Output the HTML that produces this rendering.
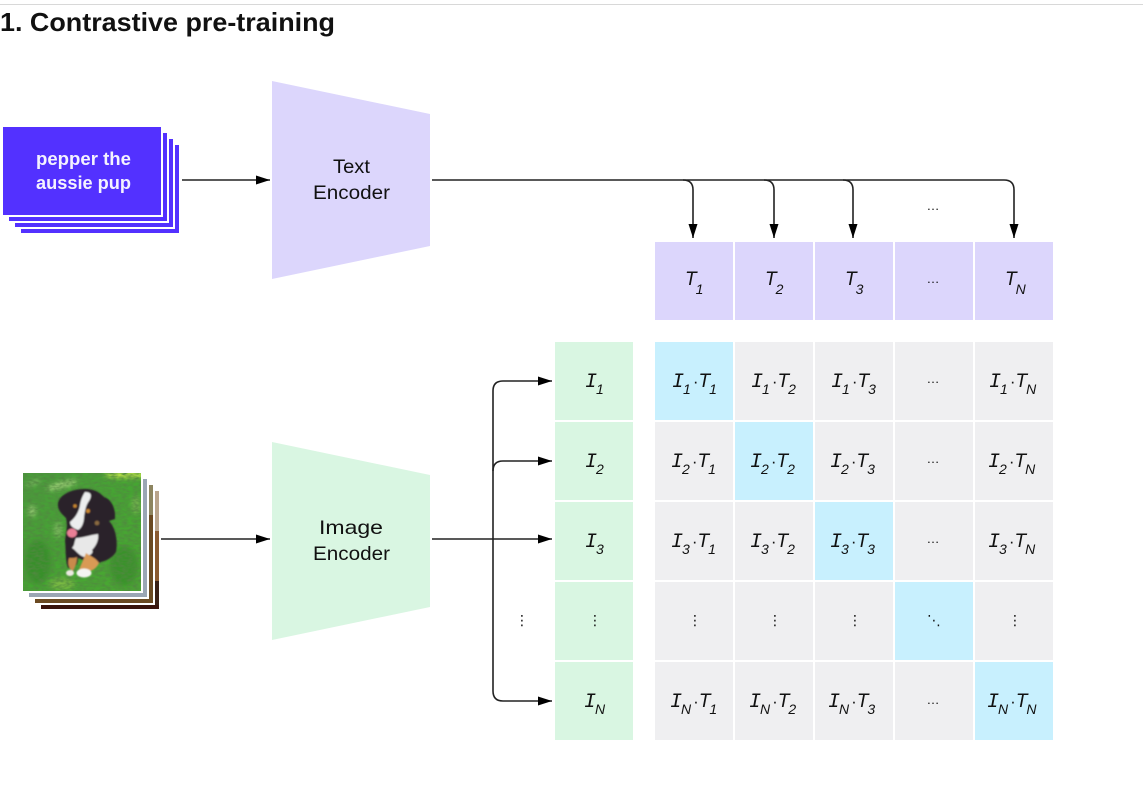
<!DOCTYPE html>
<html><head><meta charset="utf-8"><style>
html,body{margin:0;padding:0;background:#fff}
svg{display:block}
text{font-family:"Liberation Sans",sans-serif;fill:#111}
.m{font-family:"Liberation Mono",monospace;font-style:italic;font-size:20px}
.t{font-style:italic;font-size:19px}
.s{font-style:italic;font-size:14px}
.d{font-size:17px}
.h{font-size:13px;text-anchor:middle}
.v{font-family:"DejaVu Sans",sans-serif;font-size:14px;text-anchor:middle}
.l{fill:none;stroke:#222;stroke-width:1.6}
.e{font-size:19.5px}
</style></head><body>
<svg width="1143" height="806" viewBox="0 0 1143 806" xmlns="http://www.w3.org/2000/svg">
<defs>
<filter id="b1" x="-20%" y="-20%" width="140%" height="140%"><feGaussianBlur stdDeviation="0.9"/></filter>
<filter id="b3" x="-50%" y="-50%" width="200%" height="200%"><feGaussianBlur stdDeviation="2.500"/></filter>
<filter id="n" x="0" y="0" width="100%" height="100%"><feTurbulence type="fractalNoise" baseFrequency=".18 .4" numOctaves="2" seed="4"/><feColorMatrix values="0 0 0 0 .08  0 0 0 0 .25  0 0 0 0 .05  1.800 0 0 0 -.55"/></filter>
<linearGradient id="g" x1="0" y1="0" x2="1" y2="1"><stop offset="0" stop-color="#4a9a3c"/><stop offset=".5" stop-color="#45a532"/><stop offset="1" stop-color="#4aa832"/></linearGradient>
<marker id="a" viewBox="0 0 14 9" refX="14" refY="4.500" markerWidth="14" markerHeight="9" markerUnits="userSpaceOnUse" orient="auto"><path d="M0 0L14 4.500L0 9z" fill="#000"/></marker>
<clipPath id="c"><rect x="23" y="473" width="118" height="118"/></clipPath>
</defs>
<rect x="0" y="4" width="1143" height="1" fill="#d8d8d8"/>
<text x="0" y="31" font-size="26" font-weight="700" textLength="335" lengthAdjust="spacingAndGlyphs" fill="#0b0b0b">1. Contrastive pre-training</text>

<!-- text stack -->
<rect x="21" y="145" width="158" height="88" fill="#5331ff"/>
<rect x="13" y="137" width="162" height="92" fill="#fff"/>
<rect x="15" y="139" width="158" height="88" fill="#5331ff"/>
<rect x="7" y="131" width="162" height="92" fill="#fff"/>
<rect x="9" y="133" width="158" height="88" fill="#5331ff"/>
<rect x="1" y="125" width="162" height="92" fill="#fff"/>
<rect x="3" y="127" width="158" height="88" fill="#5331ff"/>
<text x="36" y="165" font-size="18" font-weight="700" style="fill:#f4f2ff" textLength="95" lengthAdjust="spacingAndGlyphs">pepper the</text>
<text x="36" y="189" font-size="18" font-weight="700" style="fill:#f4f2ff" textLength="95" lengthAdjust="spacingAndGlyphs">aussie pup</text>

<!-- encoders -->
<polygon points="272,81 430,114 430,246 272,279" fill="#dcd6fc"/>
<text x="333" y="173" class="e" textLength="37" lengthAdjust="spacingAndGlyphs">Text</text>
<text x="313" y="199" class="e" textLength="77" lengthAdjust="spacingAndGlyphs">Encoder</text>
<polygon points="272,442 430,475 430,607 272,640" fill="#d9f6e2"/>
<text x="319" y="534" class="e" textLength="64" lengthAdjust="spacingAndGlyphs">Image</text>
<text x="313" y="560" class="e" textLength="77" lengthAdjust="spacingAndGlyphs">Encoder</text>

<!-- image stack -->
<rect x="41" y="491" width="118" height="118" fill="#3a2015"/>
<rect x="155" y="491" width="4" height="40" fill="#b9a48c"/>
<rect x="155" y="531" width="4" height="50" fill="#8a5a30"/>
<rect x="41" y="605" width="118" height="4" fill="#3a140c"/>
<rect x="33" y="483" width="122" height="122" fill="#fff"/>
<rect x="35" y="485" width="118" height="118" fill="#6b4a22"/>
<rect x="149" y="485" width="4" height="30" fill="#8d8560"/>
<rect x="27" y="477" width="122" height="122" fill="#fff"/>
<rect x="29" y="479" width="118" height="118" fill="#9aa6b4"/>
<rect x="21" y="471" width="122" height="122" fill="#fff"/>
<g clip-path="url(#c)">
<rect x="23" y="473" width="118" height="118" fill="url(#g)"/>
<g filter="url(#b3)">
<ellipse cx="126" cy="475" rx="22" ry="3" fill="#d0ec50"/>
<ellipse cx="62" cy="485" rx="16" ry="3.500" fill="#a8d480" opacity=".9" transform="rotate(-15 62 485)"/>
<ellipse cx="33" cy="483" rx="8" ry="2" fill="#98c878" opacity=".8" transform="rotate(-20 33 483)"/>
<ellipse cx="32" cy="511" rx="4" ry="6" fill="#9ccc78" opacity=".9"/>
<ellipse cx="58" cy="530" rx="4" ry="8" fill="#94c870" opacity=".8"/>
<ellipse cx="136" cy="505" rx="4" ry="9" fill="#88bc58" opacity=".8"/>
<ellipse cx="62" cy="584" rx="13" ry="6" fill="#80bc44" opacity=".9"/>
<ellipse cx="38" cy="562" rx="13" ry="22" fill="#2c7a22" opacity=".5"/>
<ellipse cx="124" cy="566" rx="14" ry="20" fill="#2a7c1e" opacity=".5"/>
</g>
<rect x="23" y="473" width="118" height="118" filter="url(#n)"/>
<g filter="url(#b1)">
<path d="M58 503C60 493 76 488 88 489C97 490 101 494 104 497C111 499 116 508 115 519L109 521C116 528 118 542 116 552C112 558 106 561 101 562L97 564C92 566 84 560 78 558C78 566 74 568 68 568C65 560 66 548 65 541C66 532 68 526 66 518C62 514 57 510 58 503Z" fill="#2a2329"/>
<path d="M85 492C92 492 92 496 89 501C86 505 85 510 84 517C84 522 82 528 78 530C73 528 70 526 70 522C75 518 79 512 80 505C81 499 83 495 85 492Z" fill="#eceeee"/>
<ellipse cx="72" cy="533" rx="5" ry="4.500" fill="#ea7f96"/>
<path d="M76 538C82 538 90 535 98 534C99 540 96 546 92 550C94 553 90 556 84 557C78 555 76 550 72 548C75 545 74 542 76 538Z" fill="#e8e8e8"/>
<path d="M86 553C90 556 96 558 99 563C96 569 92 571 86 572L79 570C81 564 84 559 86 553Z" fill="#d99a55"/>
<path d="M69 558C72 558 75 558 77 557C77 564 74 569 73 571C70 570 67 565 69 558Z" fill="#c98a4c"/>
<ellipse cx="84" cy="573" rx="7.500" ry="4.500" fill="#f5f5f2"/>
<ellipse cx="70" cy="573" rx="4" ry="3" fill="#ece9e2"/>
<circle cx="75" cy="506" r="1.800" fill="#c8862e"/>
<circle cx="88" cy="511" r="2" fill="#c8862e"/>
<circle cx="97" cy="523" r="2.300" fill="#8a6a40"/>
</g>
</g>

<!-- purple row -->
<g fill="#dcd6fc">
<rect x="655" y="242" width="78" height="78"/><rect x="735" y="242" width="78" height="78"/><rect x="815" y="242" width="78" height="78"/><rect x="895" y="242" width="78" height="78"/><rect x="975" y="242" width="78" height="78"/>
</g>
<!-- green column -->
<g fill="#d9f6e2">
<rect x="555" y="342" width="78" height="78"/><rect x="555" y="422" width="78" height="78"/><rect x="555" y="502" width="78" height="78"/><rect x="555" y="582" width="78" height="78"/><rect x="555" y="662" width="78" height="78"/>
</g>
<!-- matrix -->
<g fill="#efeff1">
<rect x="735" y="342" width="78" height="78"/><rect x="815" y="342" width="78" height="78"/><rect x="895" y="342" width="78" height="78"/><rect x="975" y="342" width="78" height="78"/>
<rect x="655" y="422" width="78" height="78"/><rect x="815" y="422" width="78" height="78"/><rect x="895" y="422" width="78" height="78"/><rect x="975" y="422" width="78" height="78"/>
<rect x="655" y="502" width="78" height="78"/><rect x="735" y="502" width="78" height="78"/><rect x="895" y="502" width="78" height="78"/><rect x="975" y="502" width="78" height="78"/>
<rect x="655" y="582" width="78" height="78"/><rect x="735" y="582" width="78" height="78"/><rect x="815" y="582" width="78" height="78"/><rect x="975" y="582" width="78" height="78"/>
<rect x="655" y="662" width="78" height="78"/><rect x="735" y="662" width="78" height="78"/><rect x="815" y="662" width="78" height="78"/><rect x="895" y="662" width="78" height="78"/>
</g>
<g fill="#c8f0fe">
<rect x="655" y="342" width="78" height="78"/><rect x="735" y="422" width="78" height="78"/><rect x="815" y="502" width="78" height="78"/><rect x="895" y="582" width="78" height="78"/><rect x="975" y="662" width="78" height="78"/>
</g>

<!-- connectors -->
<path class="l" d="M182 180H270" marker-end="url(#a)"/>
<path class="l" d="M432 180H683Q693 180 693 190V238" marker-end="url(#a)"/>
<path class="l" d="M683 180H764Q774 180 774 190V238" marker-end="url(#a)"/>
<path class="l" d="M764 180H843Q853 180 853 190V238" marker-end="url(#a)"/>
<path class="l" d="M843 180H1004Q1014 180 1014 190V238" marker-end="url(#a)"/>
<path class="l" d="M161 539H270" marker-end="url(#a)"/>
<path class="l" d="M432 539H552" marker-end="url(#a)"/>
<path class="l" d="M493 539V391Q493 381 503 381H552" marker-end="url(#a)"/>
<path class="l" d="M493 471Q493 461 503 461H552" marker-end="url(#a)"/>
<path class="l" d="M493 539V691Q493 701 503 701H552" marker-end="url(#a)"/>

<!-- T labels -->
<text x="685" y="285"><tspan class="t">T</tspan><tspan class="s" dy="9" dx="-1">1</tspan></text>
<text x="765" y="285"><tspan class="t">T</tspan><tspan class="s" dy="9" dx="-1">2</tspan></text>
<text x="845" y="285"><tspan class="t">T</tspan><tspan class="s" dy="9" dx="-1">3</tspan></text>
<text x="1005" y="285"><tspan class="t">T</tspan><tspan class="s" dy="9" dx="-1">N</tspan></text>
<text x="933" y="210" class="h">…</text>
<text x="933" y="283" class="h">…</text>

<!-- I labels -->
<text x="585" y="387"><tspan class="m">I</tspan><tspan class="s" dy="7" dx="-1">1</tspan></text>
<text x="585" y="467"><tspan class="m">I</tspan><tspan class="s" dy="7" dx="-1">2</tspan></text>
<text x="585" y="547"><tspan class="m">I</tspan><tspan class="s" dy="7" dx="-1">3</tspan></text>
<text x="584" y="707"><tspan class="m">I</tspan><tspan class="s" dy="7" dx="-1">N</tspan></text>

<!-- row 1 -->
<text x="672" y="387"><tspan class="m">I</tspan><tspan class="s" dy="7" dx="-1">1</tspan><tspan class="d" dy="-7" dx="2">·</tspan><tspan class="t">T</tspan><tspan class="s" dy="7" dx="-1">1</tspan></text>
<text x="751" y="387"><tspan class="m">I</tspan><tspan class="s" dy="7" dx="-1">1</tspan><tspan class="d" dy="-7" dx="2">·</tspan><tspan class="t">T</tspan><tspan class="s" dy="7" dx="-1">2</tspan></text>
<text x="831" y="387"><tspan class="m">I</tspan><tspan class="s" dy="7" dx="-1">1</tspan><tspan class="d" dy="-7" dx="2">·</tspan><tspan class="t">T</tspan><tspan class="s" dy="7" dx="-1">3</tspan></text>
<text x="933" y="383" class="h">…</text>
<text x="989" y="387"><tspan class="m">I</tspan><tspan class="s" dy="7" dx="-1">1</tspan><tspan class="d" dy="-7" dx="2">·</tspan><tspan class="t">T</tspan><tspan class="s" dy="7" dx="-1">N</tspan></text>
<!-- row 2 -->
<text x="671" y="467"><tspan class="m">I</tspan><tspan class="s" dy="7" dx="-1">2</tspan><tspan class="d" dy="-7" dx="2">·</tspan><tspan class="t">T</tspan><tspan class="s" dy="7" dx="-1">1</tspan></text>
<text x="750" y="467"><tspan class="m">I</tspan><tspan class="s" dy="7" dx="-1">2</tspan><tspan class="d" dy="-7" dx="2">·</tspan><tspan class="t">T</tspan><tspan class="s" dy="7" dx="-1">2</tspan></text>
<text x="830" y="467"><tspan class="m">I</tspan><tspan class="s" dy="7" dx="-1">2</tspan><tspan class="d" dy="-7" dx="2">·</tspan><tspan class="t">T</tspan><tspan class="s" dy="7" dx="-1">3</tspan></text>
<text x="933" y="463" class="h">…</text>
<text x="988" y="467"><tspan class="m">I</tspan><tspan class="s" dy="7" dx="-1">2</tspan><tspan class="d" dy="-7" dx="2">·</tspan><tspan class="t">T</tspan><tspan class="s" dy="7" dx="-1">N</tspan></text>
<!-- row 3 -->
<text x="671" y="547"><tspan class="m">I</tspan><tspan class="s" dy="7" dx="-1">3</tspan><tspan class="d" dy="-7" dx="2">·</tspan><tspan class="t">T</tspan><tspan class="s" dy="7" dx="-1">1</tspan></text>
<text x="750" y="547"><tspan class="m">I</tspan><tspan class="s" dy="7" dx="-1">3</tspan><tspan class="d" dy="-7" dx="2">·</tspan><tspan class="t">T</tspan><tspan class="s" dy="7" dx="-1">2</tspan></text>
<text x="830" y="547"><tspan class="m">I</tspan><tspan class="s" dy="7" dx="-1">3</tspan><tspan class="d" dy="-7" dx="2">·</tspan><tspan class="t">T</tspan><tspan class="s" dy="7" dx="-1">3</tspan></text>
<text x="933" y="543" class="h">…</text>
<text x="988" y="547"><tspan class="m">I</tspan><tspan class="s" dy="7" dx="-1">3</tspan><tspan class="d" dy="-7" dx="2">·</tspan><tspan class="t">T</tspan><tspan class="s" dy="7" dx="-1">N</tspan></text>
<!-- row dots -->
<text x="522" y="625" class="v">⋮</text>
<text x="595" y="625" class="v">⋮</text>
<text x="695" y="625" class="v">⋮</text>
<text x="775" y="625" class="v">⋮</text>
<text x="855" y="625" class="v">⋮</text>
<text x="934" y="625" class="v">⋱</text>
<text x="1015" y="625" class="v">⋮</text>
<!-- row N -->
<text x="670" y="707"><tspan class="m">I</tspan><tspan class="s" dy="7" dx="-1">N</tspan><tspan class="d" dy="-7" dx="2">·</tspan><tspan class="t">T</tspan><tspan class="s" dy="7" dx="-1">1</tspan></text>
<text x="749" y="707"><tspan class="m">I</tspan><tspan class="s" dy="7" dx="-1">N</tspan><tspan class="d" dy="-7" dx="2">·</tspan><tspan class="t">T</tspan><tspan class="s" dy="7" dx="-1">2</tspan></text>
<text x="828" y="707"><tspan class="m">I</tspan><tspan class="s" dy="7" dx="-1">N</tspan><tspan class="d" dy="-7" dx="2">·</tspan><tspan class="t">T</tspan><tspan class="s" dy="7" dx="-1">3</tspan></text>
<text x="933" y="704" class="h">…</text>
<text x="987" y="707"><tspan class="m">I</tspan><tspan class="s" dy="7" dx="-1">N</tspan><tspan class="d" dy="-7" dx="2">·</tspan><tspan class="t">T</tspan><tspan class="s" dy="7" dx="-1">N</tspan></text>
</svg>
</body></html>
